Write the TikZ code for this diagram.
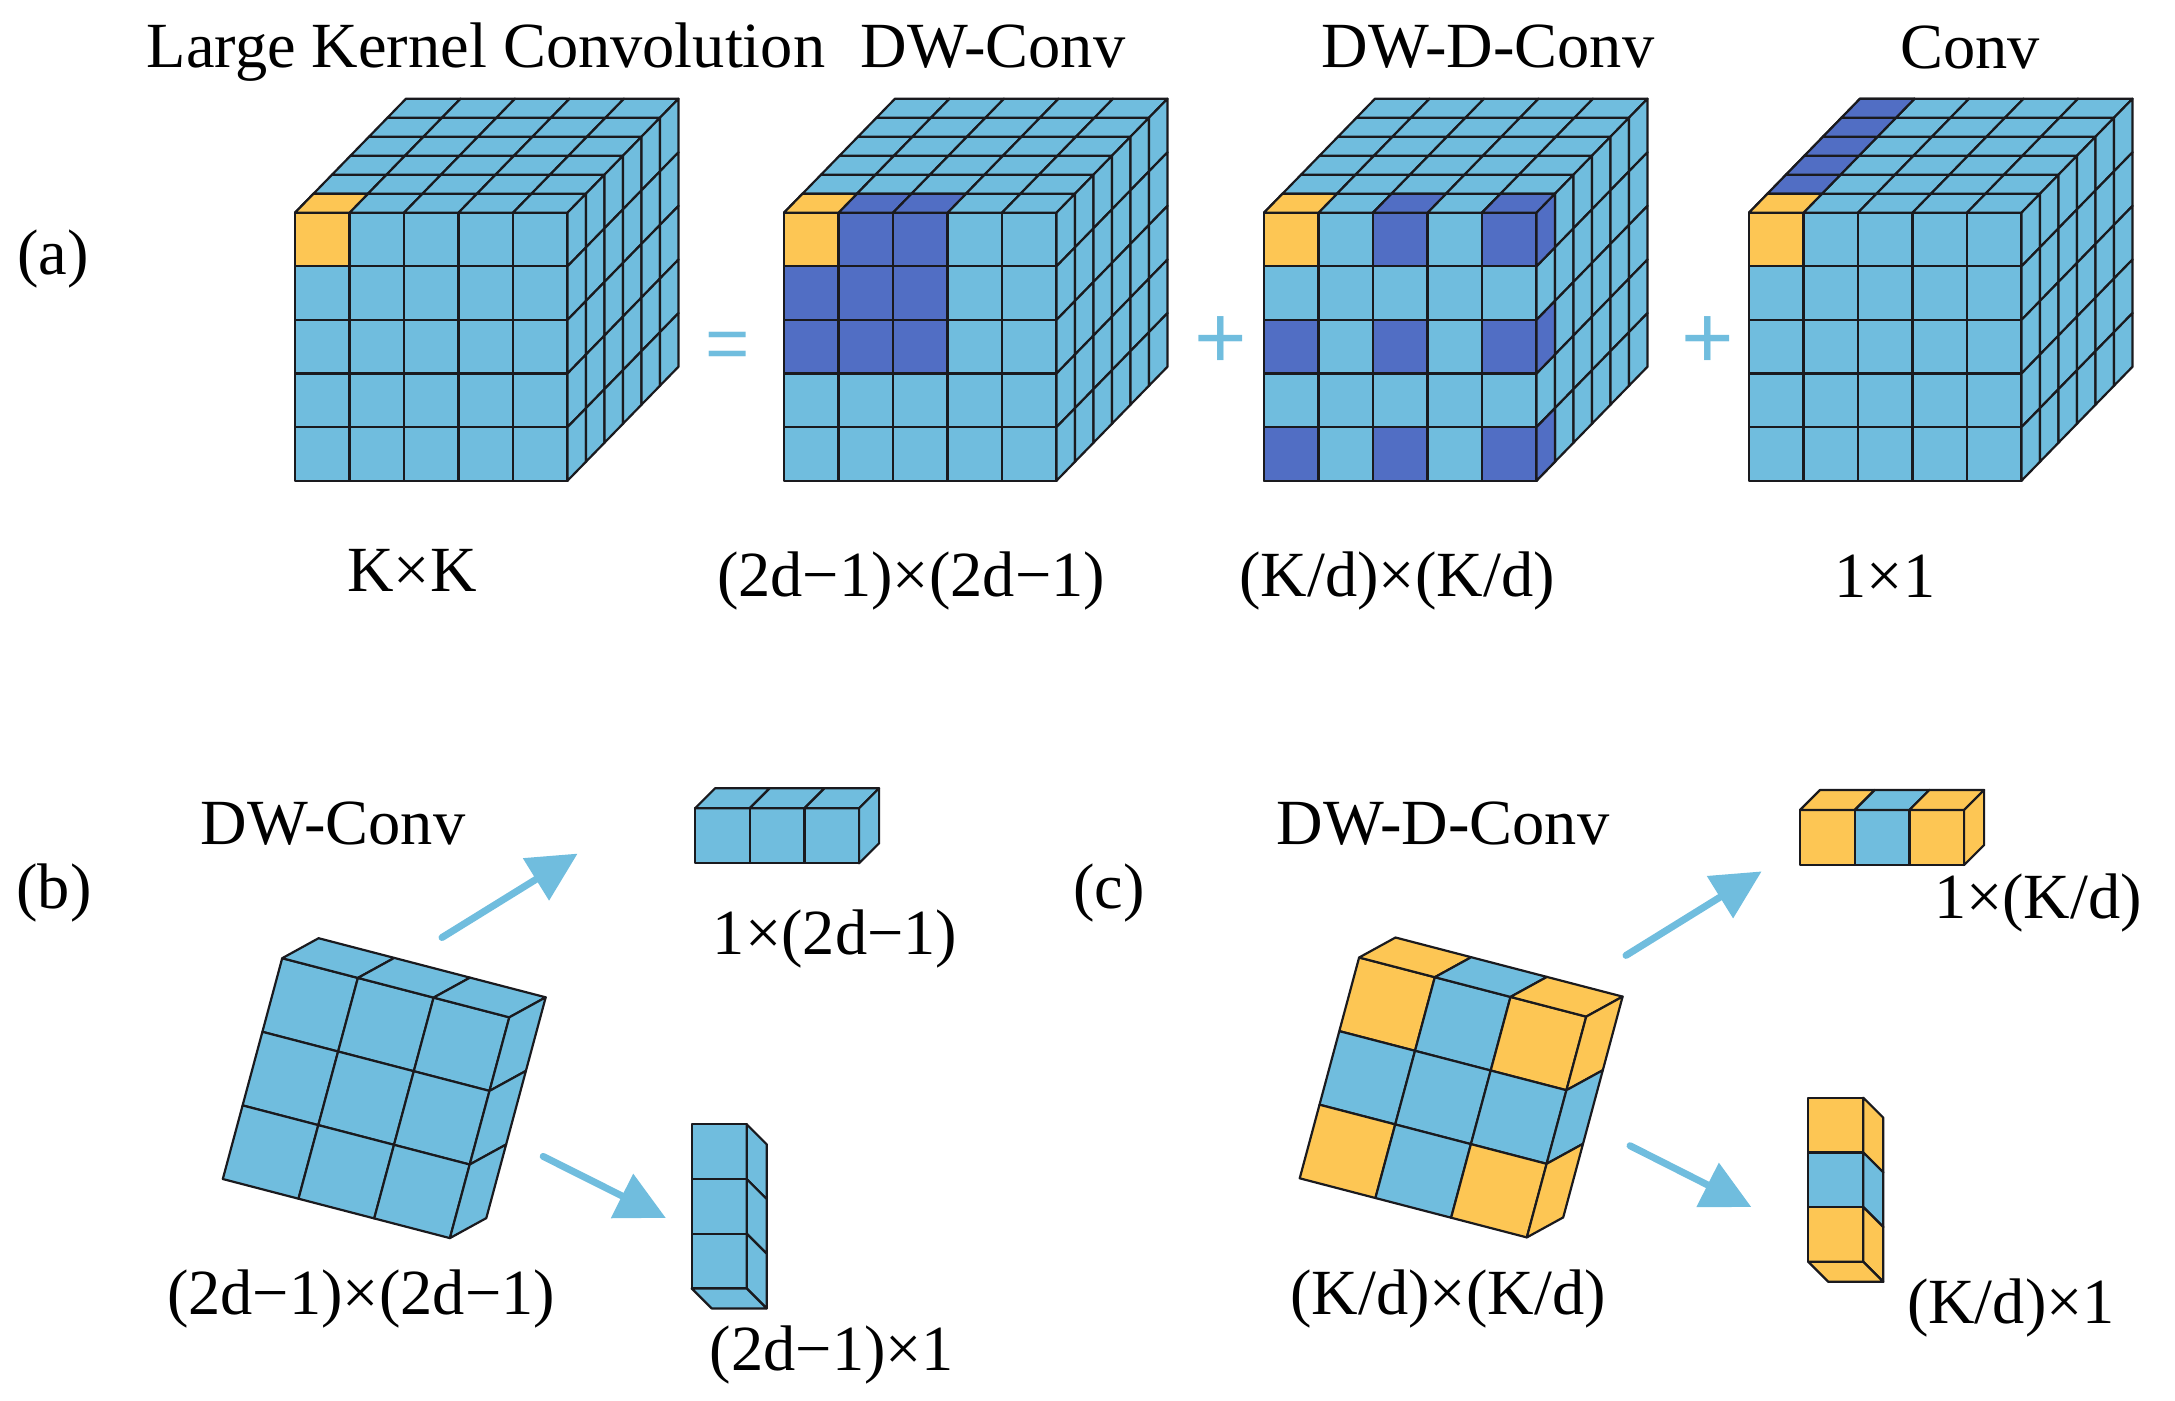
\documentclass[tikz,border=0pt]{standalone}
\usepackage{fontspec}
\setmainfont{Liberation Serif}
\newfontfamily\opfont{Liberation Sans}
\usetikzlibrary{arrows.meta, positioning}
\definecolor{cBlue}{RGB}{112,189,222}
\definecolor{cDark}{RGB}{81,110,196}
\definecolor{cGold}{RGB}{253,198,84}
\definecolor{cLine}{RGB}{26,26,30}
\tikzset{
	cell/.style     ={draw=cLine, line width=2.2pt, line join=round},
	lbl/.style      ={inner sep=0pt, font=\fontsize{64.4}{70}\selectfont},
	opsym/.style    ={inner sep=0pt, text=cBlue, font=\opfont\fontsize{90}{96}\selectfont},
	flowarrow/.style={-{Triangle[length=49pt, width=48pt]}, line width=7pt, line cap=round, draw=cBlue},
	% the box kinds, as vectors of one cell along width, height and depth
	bigcube/.style  ={x={(54.5pt,0pt)}, y={(0pt,-53.6pt)}, z={(18.5pt,19pt)}},
	tiltcube/.style ={x={(75.7pt,-19.7pt)}, y={(-19.8pt,-73.6pt)}, z={(36.4pt,20pt)}},
	stripbox/.style ={x={(54.7pt,0pt)}, y={(0pt,-55pt)}, z={(20pt,20pt)}},
	colbox/.style   ={x={(55pt,0pt)}, y={(0pt,-54.7pt)}, z={(20pt,-20pt)}},
}
\newcommand{\frontcell}[3]{\filldraw[cell, fill=#3] (#1,#2,0) -- (#1+1,#2,0) -- (#1+1,#2+1,0) -- (#1,#2+1,0) -- cycle;}
\newcommand{\topcell}[3]{\filldraw[cell, fill=#3] (#1,0,#2) -- (#1+1,0,#2) -- (#1+1,0,#2+1) -- (#1,0,#2+1) -- cycle;}
\newcommand{\bottomcell}[4]{\filldraw[cell, fill=#4] (#1,#3,#2) -- (#1+1,#3,#2) -- (#1+1,#3,#2+1) -- (#1,#3,#2+1) -- cycle;}
\newcommand{\sidecell}[4]{\filldraw[cell, fill=#4] (#1,#3,#2) -- (#1,#3,#2+1) -- (#1,#3+1,#2+1) -- (#1,#3+1,#2) -- cycle;}
% all the cells of a box: width, height, depth
\newcommand{\fullbox}[3]{
	\foreach \i in {1,...,#1} \foreach \j in {1,...,#2} {\frontcell{\i-1}{\j-1}{cBlue}}
	\foreach \i in {1,...,#1} \foreach \k in {1,...,#3} {\topcell{\i-1}{\k-1}{cBlue}}
	\foreach \k in {1,...,#3} \foreach \j in {1,...,#2} {\sidecell{#1}{\k-1}{\j-1}{cBlue}}
}
\begin{document}
\begin{tikzpicture}[x=1pt, y=-1pt]
	\useasboundingbox (0,0) rectangle (2175,1400);
	% (a) the four cubes
	\begin{scope}[shift={(295,212.7)}, bigcube]
		\fullbox{5}{5}{6}
		\frontcell{0}{0}{cGold}
		\topcell{0}{0}{cGold}
	\end{scope}
	\begin{scope}[shift={(784,212.7)}, bigcube]
		\fullbox{5}{5}{6}
		\foreach \i/\j in {1/0,2/0,0/1,1/1,2/1,0/2,1/2,2/2} {\frontcell{\i}{\j}{cDark}}
		\topcell{1}{0}{cDark}
		\topcell{2}{0}{cDark}
		\frontcell{0}{0}{cGold}
		\topcell{0}{0}{cGold}
	\end{scope}
	\begin{scope}[shift={(1264,212.7)}, bigcube]
		\fullbox{5}{5}{6}
		\foreach \i/\j in {2/0,4/0,0/2,2/2,4/2,0/4,2/4,4/4} {\frontcell{\i}{\j}{cDark}}
		\topcell{2}{0}{cDark}
		\topcell{4}{0}{cDark}
		\foreach \j in {0,2,4} {\sidecell{5}{0}{\j}{cDark}}
		\frontcell{0}{0}{cGold}
		\topcell{0}{0}{cGold}
	\end{scope}
	\begin{scope}[shift={(1749,212.7)}, bigcube]
		\fullbox{5}{5}{6}
		\foreach \k in {1,2,3,4,5} {\topcell{0}{\k}{cDark}}
		\frontcell{0}{0}{cGold}
		\topcell{0}{0}{cGold}
	\end{scope}
	% (b)
	\begin{scope}[shift={(282.2,958.2)}, tiltcube]
		\fullbox{3}{3}{1}
	\end{scope}
	\begin{scope}[shift={(695,808.3)}, stripbox]
		\fullbox{3}{1}{1}
	\end{scope}
	\begin{scope}[shift={(691.7,1124.3)}, colbox]
		\foreach \j in {0,1,2} {\frontcell{0}{\j}{cBlue}}
		\foreach \j in {0,1,2} {\sidecell{1}{0}{\j}{cBlue}}
		\bottomcell{0}{0}{3}{cBlue}
	\end{scope}
	% (c)
	\begin{scope}[shift={(1359.1,957.5)}, tiltcube]
		\foreach \i/\j/\c in {0/0/cGold,1/0/cBlue,2/0/cGold,0/1/cBlue,1/1/cBlue,2/1/cBlue,0/2/cGold,1/2/cBlue,2/2/cGold} {\frontcell{\i}{\j}{\c}}
		\foreach \i/\c in {0/cGold,1/cBlue,2/cGold} {\topcell{\i}{0}{\c}}
		\foreach \j/\c in {0/cGold,1/cBlue,2/cGold} {\sidecell{3}{0}{\j}{\c}}
	\end{scope}
	\begin{scope}[shift={(1800,810)}, stripbox]
		\foreach \i/\c in {0/cGold,1/cBlue,2/cGold} {\frontcell{\i}{0}{\c} \topcell{\i}{0}{\c}}
		\sidecell{3}{0}{0}{cGold}
	\end{scope}
	\begin{scope}[shift={(1808.3,1097.7)}, colbox]
		\foreach \j/\c in {0/cGold,1/cBlue,2/cGold} {\frontcell{0}{\j}{\c} \sidecell{1}{0}{\j}{\c}}
		\bottomcell{0}{0}{3}{cGold}
	\end{scope}
	% arrows
	\coordinate (bU1) at (442,937.5);
	\coordinate (bU2) at (577.6,853.6);
	\coordinate (bD1) at (543.2,1156.4);
	\coordinate (bD2) at (665.8,1217.9);
	\coordinate (cU1) at (1626,955.4);
	\coordinate (cU2) at (1761.6,871.4);
	\coordinate (cD1) at (1630,1145.7);
	\coordinate (cD2) at (1751.3,1207);
	\draw[flowarrow] (bU1) -- (bU2);
	\draw[flowarrow] (bD1) -- (bD2);
	\draw[flowarrow] (cU1) -- (cU2);
	\draw[flowarrow] (cD1) -- (cD2);
	% operators
	\node[opsym, font=\opfont\fontsize{76}{80}\selectfont] (eq) at (728,351) {=};
	\node[opsym] (plA) at (1220.5,343) {+};
	\node[opsym] (plB) at (1707.5,343) {+};
	% labels
	\node[lbl] (tLK) at (486,52) {Large Kernel Convolution};
	\node[lbl] (tDW) at (993,47) {DW-Conv};
	\node[lbl] (tDD) at (1488,47) {DW-D-Conv};
	\node[lbl] (tCo) at (1970,47) {Conv};
	\node[lbl] (ta) at (53,259) {(a)};
	\node[lbl] (sK) at (412,570) {K×K};
	\node[lbl] (s2d) at (911,581) {(2d−1)×(2d−1)};
	\node[lbl] (sKd) at (1397,581) {(K/d)×(K/d)};
	\node[lbl] (s1) at (1885,576) {1×1};
	\node[lbl] (tbDW) at (333,824) {DW-Conv};
	\node[lbl] (tb) at (54,893) {(b)};
	\node[lbl] (sbA) at (835,939) {1×(2d−1)};
	\node[lbl] (sbB) at (361,1299) {(2d−1)×(2d−1)};
	\node[lbl] (sbC) at (832,1355) {(2d−1)×1};
	\node[lbl] (tcDD) at (1443,824) {DW-D-Conv};
	\node[lbl] (tc) at (1109,893) {(c)};
	\node[lbl] (scA) at (2038,903) {1×(K/d)};
	\node[lbl] (scB) at (1448,1299) {(K/d)×(K/d)};
	\node[lbl] (scC) at (2011,1308) {(K/d)×1};
\end{tikzpicture}
\end{document}
